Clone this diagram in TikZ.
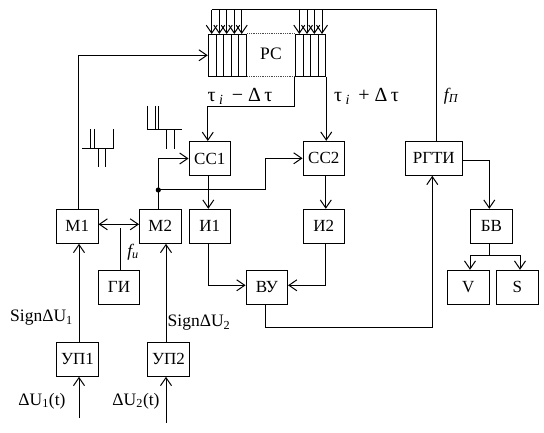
\documentclass[tikz,border=0pt]{standalone}
\usepackage{fontspec}
\setmainfont{Liberation Serif}
\usepackage{xcolor}
\usetikzlibrary{positioning, arrows.meta, calc}
\tikzset{
  blok/.style={draw, line width=1pt, minimum width=41.5pt, minimum height=34pt, inner sep=0pt},
  pil/.style={line width=1pt, -{Straight Barb[length=8pt, width=11pt, line width=1pt]}},
  dvapil/.style={line width=1pt, {Straight Barb[length=8pt, width=11pt, line width=1pt]}-{Straight Barb[length=8pt, width=11pt, line width=1pt]}},
  liniya/.style={line width=1pt},
  podpis/.style={inner sep=0pt, font=\fontsize{17.5}{20}\selectfont},
  grek/.style={inner sep=0pt, font=\fontsize{20}{24}\selectfont}
}
\begin{document}
\begin{tikzpicture}[x=1pt, y=-1pt, font=\fontsize{17}{20}\selectfont]
    \useasboundingbox (0,0) rectangle (544,433);
    % регистр сдвига
    \node[draw, line width=1pt, minimum width=38.5pt, minimum height=42pt, inner sep=0pt] (rs1) at (227.5,55.3) {};
    \node[draw, line width=1pt, minimum width=30.5pt, minimum height=42pt, inner sep=0pt] (rs2) at (310.5,55.3) {};
    \foreach \x in {216,223.3,231,238.7}{
      \draw[liniya] (\x,34.3) -- (\x,76.3);
    }
    \foreach \x in {303.3,310.7,318}{
      \draw[liniya] (\x,34.3) -- (\x,76.3);
    }
    \draw[densely dotted, line width=0.8pt, black!70] (rs1.north east) -- (rs2.north west);
    \draw[densely dotted, line width=0.8pt, black!70] (rs1.south east) -- (rs2.south west);
    \node[podpis] (rs) at (271,54) {РС};
    % блоки
    \node[blok] (cc1) at (209.8,158.5) {СС1};
    \node[blok] (cc2) at (323.8,158.3) {СС2};
    \node[blok] (m1) at (77.3,226.3) {М1};
    \node[blok] (m2) at (160.3,226.3) {М2};
    \node[blok] (i1) at (209.8,226.3) {И1};
    \node[blok] (i2) at (323.8,226.3) {И2};
    \node[blok] (gi) at (119,287.2) {ГИ};
    \node[blok] (vu) at (266.8,287.3) {ВУ};
    \node[blok] (up1) at (77.5,359.3) {УП1};
    \node[blok] (up2) at (168.5,359.3) {УП2};
    \node[blok, minimum width=57pt] (rgti) at (433.8,158.3) {РГТИ};
    \node[blok] (bv) at (491.3,226.3) {БВ};
    \node[blok] (v) at (468.3,287.3) {V};
    \node[blok] (s) at (517.3,287.3) {S};
    % шина сверху
    \coordinate (top) at (211.7,10);
    \draw[liniya] (top) -| ([xshift=3pt]rgti.north);
    \foreach \x in {211.7,219.3,226.7,234.3,241.7}{
      \draw[pil] (\x,10) -- (\x,34);
    }
    \foreach \x in {299.3,307,314.3,322}{
      \draw[pil] (\x,10) -- (\x,34);
    }
    % связи
    \coordinate (tochka) at (158.3,190);
    \draw[pil] ([xshift=1pt]m1.north) |- (rs1.west);
    \draw[pil] (rs2.south west) -- ++(0,30) -| ([xshift=-2pt]cc1.north);
    \draw[pil] (rs2.south east) -- (rs2.south east |- cc2.north);
    \draw[pil] ([xshift=-2pt]m2.north) |- (cc1.west);
    \fill (tochka) circle (2.6pt);
    \draw[liniya] (tochka) -- (265.3,190) coordinate (povorot);
    \draw[pil] (povorot) |- (cc2.west);
    \draw[pil] ([xshift=-1.5pt]cc1.south) -- ([xshift=-1.5pt]i1.north);
    \draw[pil] ([xshift=2pt]cc2.south) -- ([xshift=2pt]i2.north);
    \draw[dvapil] ([yshift=2pt]m1.east) -- ([yshift=2pt]m2.west);
    \draw[liniya] ([xshift=1.3pt]gi.north) -- ++(0,-42);
    \draw[pil] ([xshift=-1.5pt]i1.south) |- ([yshift=2pt]vu.west);
    \draw[pil] ([xshift=2pt]i2.south) |- ([yshift=2pt]vu.east);
    \draw[pil] ([xshift=-1.5pt]vu.south) -- ++(0,23) -| ([xshift=-1.5pt]rgti.south);
    \draw[pil] ([yshift=-2pt]rgti.east) -| ([xshift=-2pt]bv.north);
    \draw[liniya] ([xshift=-2pt]bv.south) -- ++(0,12) coordinate (razv);
    \draw[pil] (razv) -| ([xshift=1.7pt]v.north);
    \draw[pil] (razv) -| ([xshift=2.7pt]s.north);
    \draw[pil] ([xshift=1.5pt]up1.north) -- ([xshift=1.7pt]m1.south);
    \draw[pil] ([xshift=-2.5pt]up2.north) -- ([xshift=5.7pt]m2.south);
    \coordinate (vh1) at (79,418);
    \coordinate (vh2) at (166,422.7);
    \draw[pil] (vh1) -- (vh1 |- up1.south);
    \draw[pil] (vh2) -- (vh2 |- up2.south);
    % контакты
    \draw[liniya] (82.3,148.3) -- (113.3,148.3) -- (113.3,129.3);
    \draw[liniya] (90.3,129.3) -- (90.3,148.3);
    \draw[liniya] (94.3,129.3) -- (94.3,148.3);
    \draw[liniya] (98.3,148.3) -- (98.3,167.3);
    \draw[liniya] (105.7,148.3) -- (105.7,167.3);
    \draw[liniya] (147.3,106) -- (147.3,129.3) -- (182,129.3);
    \draw[liniya] (155.3,106) -- (155.3,129.3);
    \draw[liniya] (158.7,106) -- (158.7,129.3);
    \draw[liniya] (166.7,129.3) -- (166.7,148.7);
    \draw[liniya] (174,129.3) -- (174,148.7);
    % подписи
    \node[grek] (tau1) at (240,96) {τ\,\textsubscript{\itshape i}\, − Δ\,τ};
    \node[grek] (tau2) at (366.5,96) {τ\,\textsubscript{\itshape i}\, + Δ\,τ};
    \node[podpis] (fp) at (451,96) {\itshape f\textsubscript{П}};
    \node[podpis] (fi) at (133,252) {\itshape f\textsubscript{и}};
    \node[podpis] (sign1) at (41.5,318) {SignΔU\textsubscript{1}};
    \node[podpis] (sign2) at (199,323) {SignΔU\textsubscript{2}};
    \node[podpis] (du1) at (42,401) {ΔU\textsubscript{1}(t)};
    \node[podpis] (du2) at (136,401) {ΔU\textsubscript{2}(t)};
\end{tikzpicture}
\end{document}
